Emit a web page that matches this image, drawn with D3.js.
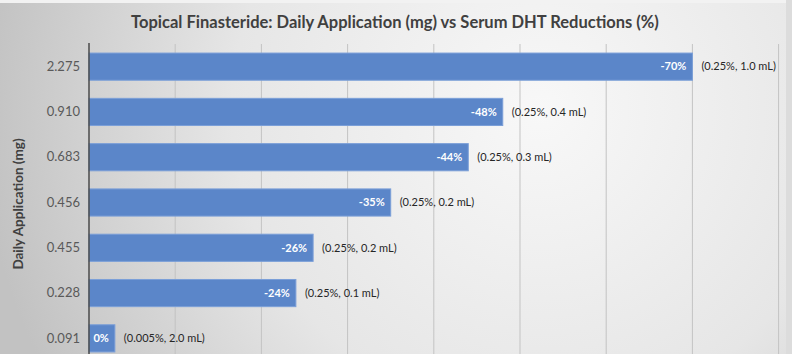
<!DOCTYPE html>
<html lang="en">
<head>
    <meta charset="UTF-8">
    <title>Topical Finasteride</title>
    <script src="https://d3js.org/d3.v7.min.js"></script>
    <style>
        body {
            margin: 0;
            padding: 0;
            overflow: hidden;
        }
        svg {
            display: block;
            font-family: Lato, 'Open Sans', sans-serif;
        }
    </style>
</head>
<body>
    <svg id="chart" width="792" height="354"></svg>

    <script type="text/javascript">
        // data
        const doses = ["2.275", "0.910", "0.683", "0.456", "0.455", "0.228", "0.091"];
        const reductions = [-70, -48, -44, -35, -26, -24, -3];
        const reductionLabels = ["-70%", "-48%", "-44%", "-35%", "-26%", "-24%", "0%"];
        const formulations = ["(0.25%, 1.0 mL)", "(0.25%, 0.4 mL)", "(0.25%, 0.3 mL)", "(0.25%, 0.2 mL)",
                              "(0.25%, 0.2 mL)", "(0.25%, 0.1 mL)", "(0.005%, 2.0 mL)"];
        const gridTicks = [0, 10, 20, 30, 40, 50, 60, 70, 80, 90];

        const width = 792, height = 354;
        const svg = d3.select("#chart");

        // background
        const defs = svg.append("defs");
        const grad = defs.append("radialGradient")
            .attr("id", "bg")
            .attr("gradientUnits", "userSpaceOnUse")
            .attr("cx", 540).attr("cy", 110).attr("r", 560);
        grad.append("stop").attr("offset", "0%").attr("stop-color", "#f8f8f8");
        grad.append("stop").attr("offset", "55%").attr("stop-color", "#e6e6e6");
        grad.append("stop").attr("offset", "100%").attr("stop-color", "#c2c2c2");

        svg.append("rect").attr("width", width).attr("height", height).attr("fill", "url(#bg)");
        svg.append("rect").attr("width", width).attr("height", 3).attr("fill", "#f2f2f2");
        svg.append("rect").attr("x", 786).attr("width", 6).attr("height", height).attr("fill", "#dcdcdc");

        const data = doses.map((d, i) => ({
            dose: d,
            value: reductions[i],
            label: reductionLabels[i],
            note: formulations[i]
        }));

        const x = d3.scaleLinear().domain([0, 10]).range([89, 175.2]);
        const y = d3.scaleBand().domain(doses).range([44, 361]).paddingInner(0.4).paddingOuter(0.2);

        // gridlines
        svg.append("g")
            .selectAll("line")
            .data(gridTicks.slice(1))
            .join("line")
            .attr("x1", d => x(d)).attr("x2", d => x(d))
            .attr("y1", 44).attr("y2", height)
            .attr("stroke", "#c3c3c3")
            .attr("stroke-width", 1);

        // bars
        svg.append("g")
            .selectAll("rect")
            .data(data)
            .join("rect")
            .attr("x", x(0))
            .attr("y", d => y(d.dose))
            .attr("width", d => x(Math.abs(d.value)) - x(0))
            .attr("height", y.bandwidth())
            .attr("fill", "#5b86c9")
            .attr("stroke", "#7b9fd8")
            .attr("stroke-width", 1);

        // value labels inside the bars
        svg.append("g")
            .selectAll("text")
            .data(data)
            .join("text")
            .attr("x", d => x(Math.abs(d.value)) - 6)
            .attr("y", d => y(d.dose) + y.bandwidth() / 2)
            .attr("dy", "0.35em")
            .attr("text-anchor", "end")
            .attr("fill", "#ffffff")
            .attr("font-size", 11)
            .attr("font-weight", "bold")
            .text(d => d.label);

        // formulation notes
        svg.append("g")
            .selectAll("text")
            .data(data)
            .join("text")
            .attr("x", d => x(Math.abs(d.value)) + 9)
            .attr("y", d => y(d.dose) + y.bandwidth() / 2)
            .attr("dy", "0.35em")
            .attr("fill", "#262626")
            .attr("font-size", 11)
            .text(d => d.note);

        // y axis
        const yAxis = svg.append("g")
            .attr("transform", `translate(${x(0)},0)`)
            .call(d3.axisLeft(y).tickSize(0).tickPadding(9));
        yAxis.select(".domain").remove();
        yAxis.selectAll("text")
            .attr("font-family", "Lato, 'Open Sans', sans-serif")
            .attr("font-size", 13)
            .attr("fill", "#595959");

        svg.append("line")
            .attr("x1", x(0)).attr("x2", x(0))
            .attr("y1", 43).attr("y2", height)
            .attr("stroke", "#4a4a4a")
            .attr("stroke-width", 1.5);

        // axis title
        svg.append("text")
            .attr("transform", "translate(23,204) rotate(-90)")
            .attr("text-anchor", "middle")
            .attr("font-size", 13.5)
            .attr("font-weight", "bold")
            .attr("fill", "#404040")
            .text("Daily Application (mg)");

        // chart title
        svg.append("text")
            .attr("x", 395)
            .attr("y", 28)
            .attr("text-anchor", "middle")
            .attr("font-size", 16.5)
            .attr("font-weight", "bold")
            .attr("fill", "#404040")
            .text("Topical Finasteride: Daily Application (mg) vs Serum DHT Reductions (%)");
    </script>
</body>
</html>
